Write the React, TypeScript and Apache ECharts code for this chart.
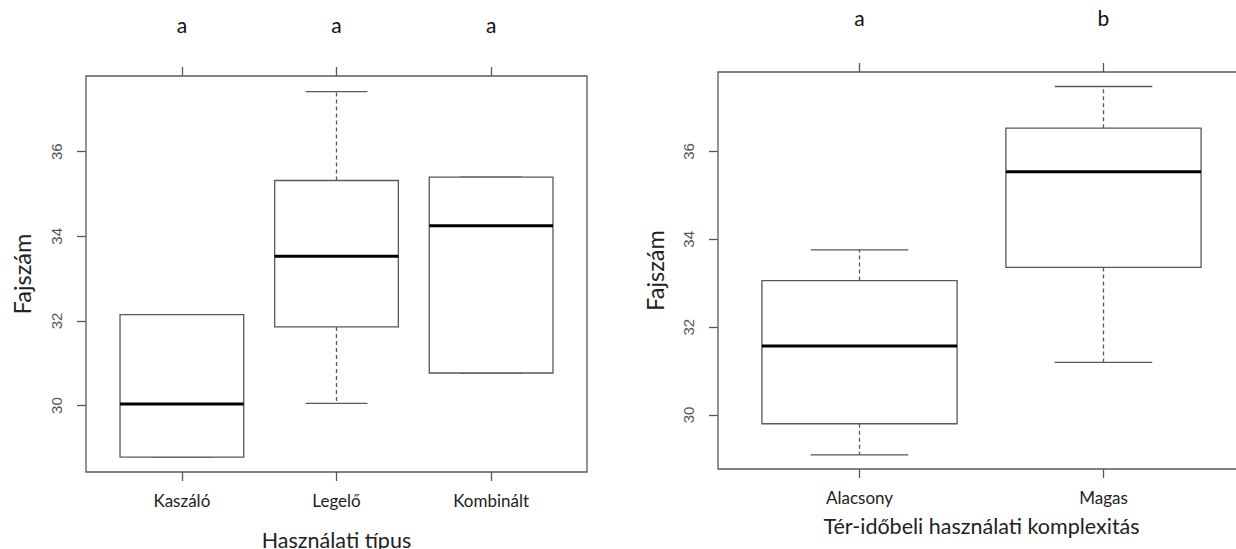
import React, { useEffect, useRef } from "react";
import * as echarts from "echarts";

// Left panel: land-use type
const typeCats = ["Kaszáló", "Legelő", "Kombinált"];
const typeMin = [28.78, 30.05, 30.77];
const typeQ1 = [28.78, 31.86, 30.77];
const typeMedian = [30.04, 33.53, 34.25];
const typeQ3 = [32.15, 35.32, 35.4];
const typeMax = [32.15, 37.42, 35.4];
const typeLetters = ["a", "a", "a"];
const typeYRange = [28.43, 37.79];

// Right panel: spatio-temporal complexity
const complexCats = ["Alacsony", "Magas"];
const complexMin = [29.09, 31.2];
const complexQ1 = [29.8, 33.36];
const complexMedian = [31.57, 35.54];
const complexQ3 = [33.06, 36.53];
const complexMax = [33.76, 37.48];
const complexLetters = ["a", "b"];
const complexYRange = [28.77, 37.81];

const yTicks = [30, 32, 34, 36];

const LINE = "#595959";
const FONT = "Lato";

function buildRows(mins: number[], q1: number[], med: number[], q3: number[], maxs: number[]) {
  return mins.map((m, i) => [i + 1, m, q1[i], med[i], q3[i], maxs[i]]);
}

function renderBox(params: any, api: any) {
  const x = api.value(0);
  const mn = api.value(1);
  const q1 = api.value(2);
  const md = api.value(3);
  const q3 = api.value(4);
  const mx = api.value(5);
  const w = api.size([0.8, 0])[0];
  const cw = w / 4;
  const pMin = api.coord([x, mn]);
  const pQ1 = api.coord([x, q1]);
  const pMd = api.coord([x, md]);
  const pQ3 = api.coord([x, q3]);
  const pMax = api.coord([x, mx]);
  const cx = pMd[0];
  const thin = { stroke: LINE, lineWidth: 1.3, fill: null };
  const dashed = { stroke: LINE, lineWidth: 1.3, lineDash: [4, 3] };
  return {
    type: "group",
    children: [
      { type: "line", shape: { x1: cx, y1: pQ3[1], x2: cx, y2: pMax[1] }, style: dashed },
      { type: "line", shape: { x1: cx, y1: pQ1[1], x2: cx, y2: pMin[1] }, style: dashed },
      { type: "line", shape: { x1: cx - cw, y1: pMax[1], x2: cx + cw, y2: pMax[1] }, style: thin },
      { type: "line", shape: { x1: cx - cw, y1: pMin[1], x2: cx + cw, y2: pMin[1] }, style: thin },
      {
        type: "rect",
        shape: { x: cx - w / 2, y: pQ3[1], width: w, height: pQ1[1] - pQ3[1] },
        style: { stroke: LINE, lineWidth: 1.3, fill: "#fff" },
      },
      {
        type: "line",
        shape: { x1: cx - w / 2, y1: pMd[1], x2: cx + w / 2, y2: pMd[1] },
        style: { stroke: "#000", lineWidth: 3 },
      },
    ],
  };
}

function xAxes(
  gridIndex: number,
  n: number,
  cats: string[],
  letters: string[],
  title: string,
  titleGap: number,
  letterGap: number
) {
  const pad = 0.04 * n; // R: xlim 0.5..n+0.5 extended by 4%
  const min = 0.5 - pad;
  const max = n + 0.5 + pad;
  const ticks = cats.map((_, i) => i + 1);
  return [
    {
      type: "value",
      gridIndex,
      position: "bottom",
      min,
      max,
      axisLine: { show: false },
      splitLine: { show: false },
      axisTick: { show: true, customValues: ticks, length: 9, lineStyle: { color: LINE, width: 1.3 } },
      axisLabel: {
        customValues: ticks,
        formatter: (v: number) => cats[Math.round(v) - 1] ?? "",
        margin: 20,
        fontSize: 17,
        fontFamily: FONT,
        color: "#222",
      },
      name: title,
      nameLocation: "middle",
      nameGap: titleGap,
      nameTextStyle: { fontSize: 21.5, fontFamily: FONT, color: "#222" },
    },
    {
      type: "value",
      gridIndex,
      position: "top",
      min,
      max,
      axisLine: { show: false },
      splitLine: { show: false },
      axisTick: { show: true, customValues: ticks, length: 9, lineStyle: { color: LINE, width: 1.3 } },
      axisLabel: {
        customValues: ticks,
        formatter: (v: number) => letters[Math.round(v) - 1] ?? "",
        margin: letterGap,
        fontSize: 21,
        fontFamily: FONT,
        color: "#111",
      },
    },
  ];
}

function yAxis(gridIndex: number, range: number[], nameGap: number) {
  return {
    type: "value",
    gridIndex,
    min: range[0],
    max: range[1],
    axisLine: { show: false },
    splitLine: { show: false },
    axisTick: { show: true, customValues: yTicks, length: 9, lineStyle: { color: LINE, width: 1.3 } },
    axisLabel: {
      customValues: yTicks,
      rotate: 90,
      margin: 22,
      fontSize: 15,
      fontFamily: "Liberation Sans",
      color: "#555",
    },
    name: "Fajszám",
    nameLocation: "middle",
    nameGap,
    nameTextStyle: { fontSize: 23.5, fontFamily: FONT, color: "#222" },
  };
}

export default function App() {
  const ref = useRef<HTMLDivElement>(null);
  useEffect(() => {
    if (!ref.current) return;
    const chart = echarts.init(ref.current, null, { renderer: "svg" });
    const [xb0, xt0] = xAxes(0, typeCats.length, typeCats, typeLetters, "Használati típus", 57, 41);
    const [xb1, xt1] = xAxes(
      1,
      complexCats.length,
      complexCats,
      complexLetters,
      "Tér-időbeli használati komplexitás",
      46,
      44
    );
    chart.setOption({
      animation: false,
      backgroundColor: "#fff",
      grid: [
        {
          left: 86,
          top: 76,
          width: 501,
          height: 396,
          show: true,
          borderColor: LINE,
          borderWidth: 1.3,
          backgroundColor: "transparent",
          outerBoundsMode: "none",
          containLabel: false,
        },
        {
          left: 718,
          top: 72,
          width: 527,
          height: 397,
          show: true,
          borderColor: LINE,
          borderWidth: 1.3,
          backgroundColor: "transparent",
          outerBoundsMode: "none",
          containLabel: false,
        },
      ],
      xAxis: [xb0, xt0, xb1, xt1],
      yAxis: [yAxis(0, typeYRange, 52), yAxis(1, complexYRange, 51)],
      series: [
        {
          type: "custom",
          coordinateSystem: "cartesian2d",
          xAxisIndex: 0,
          yAxisIndex: 0,
          data: buildRows(typeMin, typeQ1, typeMedian, typeQ3, typeMax),
          encode: { x: 0, y: [1, 2, 3, 4, 5] },
          renderItem: renderBox,
          clip: false,
        },
        {
          type: "custom",
          coordinateSystem: "cartesian2d",
          xAxisIndex: 2,
          yAxisIndex: 1,
          data: buildRows(complexMin, complexQ1, complexMedian, complexQ3, complexMax),
          encode: { x: 0, y: [1, 2, 3, 4, 5] },
          renderItem: renderBox,
          clip: false,
        },
      ],
    });
    return () => chart.dispose();
  }, []);
  return (
    <div
      ref={ref}
      style={{ position: "absolute", left: 0, top: 0, width: 1236, height: 549, background: "#fff" }}
    />
  );
}
